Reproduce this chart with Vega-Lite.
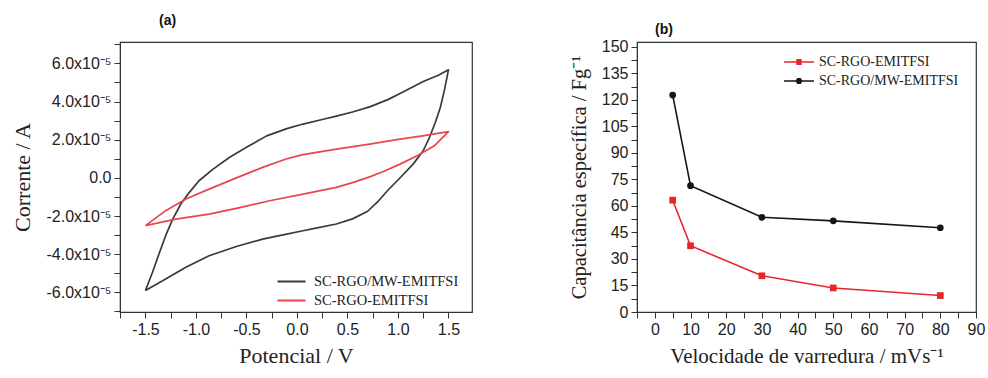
{
  "$schema": "https://vega.github.io/schema/vega-lite/v6.json",
  "background": "white",
  "padding": {"left": 10, "top": 13, "right": 0, "bottom": 0},
  "spacing": 95,
  "config": {
    "view": {"stroke": "#333333", "strokeWidth": 1.2},
    "axis": {
      "labelFont": "Liberation Sans", "labelFontSize": 16, "labelColor": "#222222",
      "titleFont": "Liberation Serif", "titleFontWeight": "normal", "titleColor": "#222222",
      "grid": false, "domainColor": "#333333", "tickColor": "#333333", "tickSize": 6,
      "labelPadding": 3, "labelOverlap": false, "labelFlush": false
    },
    "legend": {"labelFont": "Liberation Serif", "labelColor": "#222222", "padding": 0, "offset": 0},
    "title": {"font": "Liberation Sans", "fontSize": 14, "fontWeight": "bold", "color": "#111111", "anchor": "start", "frame": "group", "baseline": "bottom"}
  },
  "resolve": {
    "scale": {"color": "independent", "shape": "independent", "stroke": "independent"},
    "legend": {"color": "independent", "shape": "independent", "stroke": "independent"}
  },
  "hconcat": [
    {
      "width": 352,
      "height": 270,
      "title": {"text": "(a)", "dx": 39, "offset": 8},
      "data": {
        "values": [
          {"amostra": "SC-RGO/MW-EMITFSI", "i": 0, "potencial": -1.50, "corrente": -5.90e-5},
          {"amostra": "SC-RGO/MW-EMITFSI", "i": 1, "potencial": -1.43, "corrente": -4.95e-5},
          {"amostra": "SC-RGO/MW-EMITFSI", "i": 2, "potencial": -1.36, "corrente": -3.90e-5},
          {"amostra": "SC-RGO/MW-EMITFSI", "i": 3, "potencial": -1.30, "corrente": -3.03e-5},
          {"amostra": "SC-RGO/MW-EMITFSI", "i": 4, "potencial": -1.23, "corrente": -2.16e-5},
          {"amostra": "SC-RGO/MW-EMITFSI", "i": 5, "potencial": -1.15, "corrente": -1.37e-5},
          {"amostra": "SC-RGO/MW-EMITFSI", "i": 6, "potencial": -1.065, "corrente": -0.76e-5},
          {"amostra": "SC-RGO/MW-EMITFSI", "i": 7, "potencial": -0.97, "corrente": -0.15e-5},
          {"amostra": "SC-RGO/MW-EMITFSI", "i": 8, "potencial": -0.83, "corrente": 0.46e-5},
          {"amostra": "SC-RGO/MW-EMITFSI", "i": 9, "potencial": -0.67, "corrente": 1.07e-5},
          {"amostra": "SC-RGO/MW-EMITFSI", "i": 10, "potencial": -0.50, "corrente": 1.60e-5},
          {"amostra": "SC-RGO/MW-EMITFSI", "i": 11, "potencial": -0.30, "corrente": 2.20e-5},
          {"amostra": "SC-RGO/MW-EMITFSI", "i": 12, "potencial": -0.10, "corrente": 2.58e-5},
          {"amostra": "SC-RGO/MW-EMITFSI", "i": 13, "potencial": 0.06, "corrente": 2.82e-5},
          {"amostra": "SC-RGO/MW-EMITFSI", "i": 14, "potencial": 0.25, "corrente": 3.06e-5},
          {"amostra": "SC-RGO/MW-EMITFSI", "i": 15, "potencial": 0.40, "corrente": 3.25e-5},
          {"amostra": "SC-RGO/MW-EMITFSI", "i": 16, "potencial": 0.55, "corrente": 3.45e-5},
          {"amostra": "SC-RGO/MW-EMITFSI", "i": 17, "potencial": 0.72, "corrente": 3.72e-5},
          {"amostra": "SC-RGO/MW-EMITFSI", "i": 18, "potencial": 0.90, "corrente": 4.10e-5},
          {"amostra": "SC-RGO/MW-EMITFSI", "i": 19, "potencial": 1.05, "corrente": 4.50e-5},
          {"amostra": "SC-RGO/MW-EMITFSI", "i": 20, "potencial": 1.25, "corrente": 5.05e-5},
          {"amostra": "SC-RGO/MW-EMITFSI", "i": 21, "potencial": 1.40, "corrente": 5.38e-5},
          {"amostra": "SC-RGO/MW-EMITFSI", "i": 22, "potencial": 1.50, "corrente": 5.66e-5},
          {"amostra": "SC-RGO/MW-EMITFSI", "i": 23, "potencial": 1.46, "corrente": 4.60e-5},
          {"amostra": "SC-RGO/MW-EMITFSI", "i": 24, "potencial": 1.42, "corrente": 3.70e-5},
          {"amostra": "SC-RGO/MW-EMITFSI", "i": 25, "potencial": 1.37, "corrente": 2.90e-5},
          {"amostra": "SC-RGO/MW-EMITFSI", "i": 26, "potencial": 1.31, "corrente": 2.10e-5},
          {"amostra": "SC-RGO/MW-EMITFSI", "i": 27, "potencial": 1.25, "corrente": 1.42e-5},
          {"amostra": "SC-RGO/MW-EMITFSI", "i": 28, "potencial": 1.15, "corrente": 0.72e-5},
          {"amostra": "SC-RGO/MW-EMITFSI", "i": 29, "potencial": 1.01, "corrente": -0.06e-5},
          {"amostra": "SC-RGO/MW-EMITFSI", "i": 30, "potencial": 0.90, "corrente": -0.65e-5},
          {"amostra": "SC-RGO/MW-EMITFSI", "i": 31, "potencial": 0.80, "corrente": -1.25e-5},
          {"amostra": "SC-RGO/MW-EMITFSI", "i": 32, "potencial": 0.70, "corrente": -1.75e-5},
          {"amostra": "SC-RGO/MW-EMITFSI", "i": 33, "potencial": 0.55, "corrente": -2.15e-5},
          {"amostra": "SC-RGO/MW-EMITFSI", "i": 34, "potencial": 0.39, "corrente": -2.42e-5},
          {"amostra": "SC-RGO/MW-EMITFSI", "i": 35, "potencial": 0.20, "corrente": -2.62e-5},
          {"amostra": "SC-RGO/MW-EMITFSI", "i": 36, "potencial": 0.06, "corrente": -2.77e-5},
          {"amostra": "SC-RGO/MW-EMITFSI", "i": 37, "potencial": -0.15, "corrente": -3.00e-5},
          {"amostra": "SC-RGO/MW-EMITFSI", "i": 38, "potencial": -0.34, "corrente": -3.21e-5},
          {"amostra": "SC-RGO/MW-EMITFSI", "i": 39, "potencial": -0.60, "corrente": -3.60e-5},
          {"amostra": "SC-RGO/MW-EMITFSI", "i": 40, "potencial": -0.87, "corrente": -4.08e-5},
          {"amostra": "SC-RGO/MW-EMITFSI", "i": 41, "potencial": -1.10, "corrente": -4.69e-5},
          {"amostra": "SC-RGO/MW-EMITFSI", "i": 42, "potencial": -1.30, "corrente": -5.30e-5},
          {"amostra": "SC-RGO/MW-EMITFSI", "i": 43, "potencial": -1.50, "corrente": -5.90e-5},
          {"amostra": "SC-RGO-EMITFSI", "i": 0, "potencial": -1.50, "corrente": -2.50e-5},
          {"amostra": "SC-RGO-EMITFSI", "i": 1, "potencial": -1.30, "corrente": -1.72e-5},
          {"amostra": "SC-RGO-EMITFSI", "i": 2, "potencial": -1.10, "corrente": -1.11e-5},
          {"amostra": "SC-RGO-EMITFSI", "i": 3, "potencial": -0.87, "corrente": -0.59e-5},
          {"amostra": "SC-RGO-EMITFSI", "i": 4, "potencial": -0.60, "corrente": 0.00},
          {"amostra": "SC-RGO-EMITFSI", "i": 5, "potencial": -0.34, "corrente": 0.55e-5},
          {"amostra": "SC-RGO-EMITFSI", "i": 6, "potencial": -0.10, "corrente": 1.00e-5},
          {"amostra": "SC-RGO-EMITFSI", "i": 7, "potencial": 0.06, "corrente": 1.22e-5},
          {"amostra": "SC-RGO-EMITFSI", "i": 8, "potencial": 0.39, "corrente": 1.51e-5},
          {"amostra": "SC-RGO-EMITFSI", "i": 9, "potencial": 0.72, "corrente": 1.77e-5},
          {"amostra": "SC-RGO-EMITFSI", "i": 10, "potencial": 0.99, "corrente": 2.00e-5},
          {"amostra": "SC-RGO-EMITFSI", "i": 11, "potencial": 1.26, "corrente": 2.21e-5},
          {"amostra": "SC-RGO-EMITFSI", "i": 12, "potencial": 1.50, "corrente": 2.42e-5},
          {"amostra": "SC-RGO-EMITFSI", "i": 13, "potencial": 1.36, "corrente": 1.68e-5},
          {"amostra": "SC-RGO-EMITFSI", "i": 14, "potencial": 1.19, "corrente": 1.16e-5},
          {"amostra": "SC-RGO-EMITFSI", "i": 15, "potencial": 1.02, "corrente": 0.72e-5},
          {"amostra": "SC-RGO-EMITFSI", "i": 16, "potencial": 0.85, "corrente": 0.32e-5},
          {"amostra": "SC-RGO-EMITFSI", "i": 17, "potencial": 0.72, "corrente": 0.05e-5},
          {"amostra": "SC-RGO-EMITFSI", "i": 18, "potencial": 0.55, "corrente": -0.25e-5},
          {"amostra": "SC-RGO-EMITFSI", "i": 19, "potencial": 0.39, "corrente": -0.50e-5},
          {"amostra": "SC-RGO-EMITFSI", "i": 20, "potencial": 0.06, "corrente": -0.85e-5},
          {"amostra": "SC-RGO-EMITFSI", "i": 21, "potencial": -0.27, "corrente": -1.20e-5},
          {"amostra": "SC-RGO-EMITFSI", "i": 22, "potencial": -0.60, "corrente": -1.60e-5},
          {"amostra": "SC-RGO-EMITFSI", "i": 23, "potencial": -0.87, "corrente": -1.90e-5},
          {"amostra": "SC-RGO-EMITFSI", "i": 24, "potencial": -1.20, "corrente": -2.16e-5},
          {"amostra": "SC-RGO-EMITFSI", "i": 25, "potencial": -1.50, "corrente": -2.50e-5}
        ]
      },
      "mark": {"type": "line", "strokeWidth": 1.7, "strokeJoin": "round"},
      "encoding": {
        "x": {
          "field": "potencial", "type": "quantitative",
          "scale": {"domain": [-1.752, 1.733], "nice": false, "zero": false},
          "axis": {
            "title": "Potencial / V", "titleFontSize": 22, "titlePadding": 8,
            "values": [-1.75, -1.5, -1.25, -1, -0.75, -0.5, -0.25, 0, 0.25, 0.5, 0.75, 1, 1.25, 1.5],
            "labelExpr": "abs(datum.value*2-round(datum.value*2))>0.001 ? '' : (datum.value<0 ? '-' : '') + format(abs(datum.value), '.1f')",
            "encode": {"ticks": {"update": {"y2": {"signal": "abs(datum.value*2-round(datum.value*2))>0.001 ? 3 : 6"}}}}
          }
        },
        "y": {
          "field": "corrente", "type": "quantitative",
          "scale": {"domain": [-7.03e-5, 7.12e-5], "nice": false, "zero": false},
          "axis": {
            "title": "Corrente / A", "titleFontSize": 22, "titlePadding": 12,
            "values": [-7e-5, -6e-5, -5e-5, -4e-5, -3e-5, -2e-5, -1e-5, 0, 1e-5, 2e-5, 3e-5, 4e-5, 5e-5, 6e-5, 7e-5],
            "labelExpr": "abs(datum.value*5e4-round(datum.value*5e4))>0.001 ? '' : (abs(datum.value)<1e-9 ? '0.0' : (datum.value<0 ? '-' : '') + format(abs(datum.value)*1e5, '.1f') + 'x10⁻⁵')",
            "encode": {"ticks": {"update": {"x2": {"signal": "abs(datum.value*5e4-round(datum.value*5e4))>0.001 ? -3 : -6"}}}}
          }
        },
        "color": {
          "field": "amostra", "type": "nominal",
          "scale": {"domain": ["SC-RGO/MW-EMITFSI", "SC-RGO-EMITFSI"], "range": ["#3a3a3a", "#e8464a"]},
          "legend": {
            "title": null, "orient": "none", "legendX": 156, "legendY": 232,
            "symbolType": "stroke", "symbolSize": 784, "symbolStrokeWidth": 2.2,
            "clipHeight": 15,
            "labelFontSize": 14.5, "labelOffset": 7, "rowPadding": 3
          }
        },
        "order": {"field": "i", "type": "quantitative"}
      }
    },
    {
      "width": 339,
      "height": 270,
      "title": {"text": "(b)", "dx": 18, "offset": 2},
      "data": {
        "values": [
          {"amostra": "SC-RGO-EMITFSI", "velocidade": 5, "capacitancia": 63.3},
          {"amostra": "SC-RGO-EMITFSI", "velocidade": 10, "capacitancia": 37.5},
          {"amostra": "SC-RGO-EMITFSI", "velocidade": 30, "capacitancia": 20.5},
          {"amostra": "SC-RGO-EMITFSI", "velocidade": 50, "capacitancia": 13.6},
          {"amostra": "SC-RGO-EMITFSI", "velocidade": 80, "capacitancia": 9.3},
          {"amostra": "SC-RGO/MW-EMITFSI", "velocidade": 5, "capacitancia": 122.8},
          {"amostra": "SC-RGO/MW-EMITFSI", "velocidade": 10, "capacitancia": 71.5},
          {"amostra": "SC-RGO/MW-EMITFSI", "velocidade": 30, "capacitancia": 53.6},
          {"amostra": "SC-RGO/MW-EMITFSI", "velocidade": 50, "capacitancia": 51.6},
          {"amostra": "SC-RGO/MW-EMITFSI", "velocidade": 80, "capacitancia": 47.7}
        ]
      },
      "encoding": {
        "x": {
          "field": "velocidade", "type": "quantitative",
          "scale": {"domain": [-5, 90], "nice": false, "zero": false},
          "axis": {
            "title": "Velocidade de varredura / mVs⁻¹", "titleFontSize": 21, "titlePadding": 8,
            "values": [-5, 0, 5, 10, 15, 20, 25, 30, 35, 40, 45, 50, 55, 60, 65, 70, 75, 80, 85, 90],
            "labelExpr": "datum.value % 10 != 0 ? '' : format(datum.value, 'd')",
            "encode": {"ticks": {"update": {"y2": {"signal": "datum.value % 10 != 0 ? 3 : 6"}}}}
          }
        },
        "y": {
          "field": "capacitancia", "type": "quantitative",
          "scale": {"domain": [0, 152.83], "nice": false},
          "axis": {
            "title": "Capacitância específica / Fg⁻¹", "titleFontSize": 20.5, "titlePadding": 12,
            "values": [0, 7.5, 15, 22.5, 30, 37.5, 45, 52.5, 60, 67.5, 75, 82.5, 90, 97.5, 105, 112.5, 120, 127.5, 135, 142.5, 150],
            "labelExpr": "datum.value % 15 != 0 ? '' : format(datum.value, 'd')",
            "encode": {"ticks": {"update": {"x2": {"signal": "datum.value % 15 != 0 ? -3 : -6"}}}}
          }
        }
      },
      "layer": [
        {
          "mark": {"type": "line", "strokeWidth": 1.6},
          "encoding": {
            "stroke": {
              "field": "amostra", "type": "nominal",
              "scale": {"domain": ["SC-RGO-EMITFSI", "SC-RGO/MW-EMITFSI"], "range": ["#e5262b", "#151515"]},
              "legend": null
            }
          }
        },
        {
          "transform": [{"filter": "datum.amostra == 'SC-RGO-EMITFSI'"}],
          "mark": {"type": "point", "filled": true, "size": 45, "shape": "square", "opacity": 1, "color": "#e5262b"}
        },
        {
          "transform": [{"filter": "datum.amostra == 'SC-RGO/MW-EMITFSI'"}],
          "mark": {"type": "point", "filled": true, "size": 45, "shape": "circle", "opacity": 1, "color": "#151515"}
        },
        {
          "transform": [{"filter": "datum.amostra == 'SC-RGO-EMITFSI'"}],
          "mark": {"type": "point", "filled": false, "opacity": 0, "strokeWidth": 1.5, "color": "#e5262b"},
          "encoding": {
            "shape": {
              "field": "amostra", "type": "nominal",
              "scale": {
                "domain": ["SC-RGO-EMITFSI"],
                "range": ["M-1,0H1M-0.18,-0.15H0.18M-0.18,-0.1H0.18M-0.18,-0.05H0.18M-0.18,0.05H0.18M-0.18,0.1H0.18M-0.18,0.15H0.18"]
              },
              "legend": {
                "title": null, "orient": "none", "legendX": 146, "legendY": 13,
                "symbolSize": 900, "symbolStrokeWidth": 1.5, "symbolOpacity": 1,
                "clipHeight": 14, "labelFontSize": 14, "labelOffset": 4
              }
            }
          }
        },
        {
          "transform": [{"filter": "datum.amostra == 'SC-RGO/MW-EMITFSI'"}],
          "mark": {"type": "point", "filled": false, "opacity": 0, "strokeWidth": 1.5, "color": "#151515"},
          "encoding": {
            "shape": {
              "field": "amostra", "type": "nominal",
              "scale": {
                "domain": ["SC-RGO/MW-EMITFSI"],
                "range": ["M-1,0H1M-0.13,-0.15H0.13M-0.17,-0.1H0.17M-0.19,-0.05H0.19M-0.2,0H0.2M-0.19,0.05H0.19M-0.17,0.1H0.17M-0.13,0.15H0.13"]
              },
              "legend": {
                "title": null, "orient": "none", "legendX": 146, "legendY": 32,
                "symbolSize": 900, "symbolStrokeWidth": 1.5, "symbolOpacity": 1,
                "clipHeight": 14, "labelFontSize": 14, "labelOffset": 4
              }
            }
          }
        }
      ],
      "resolve": {"scale": {"shape": "independent"}, "legend": {"shape": "independent"}}
    }
  ]
}
